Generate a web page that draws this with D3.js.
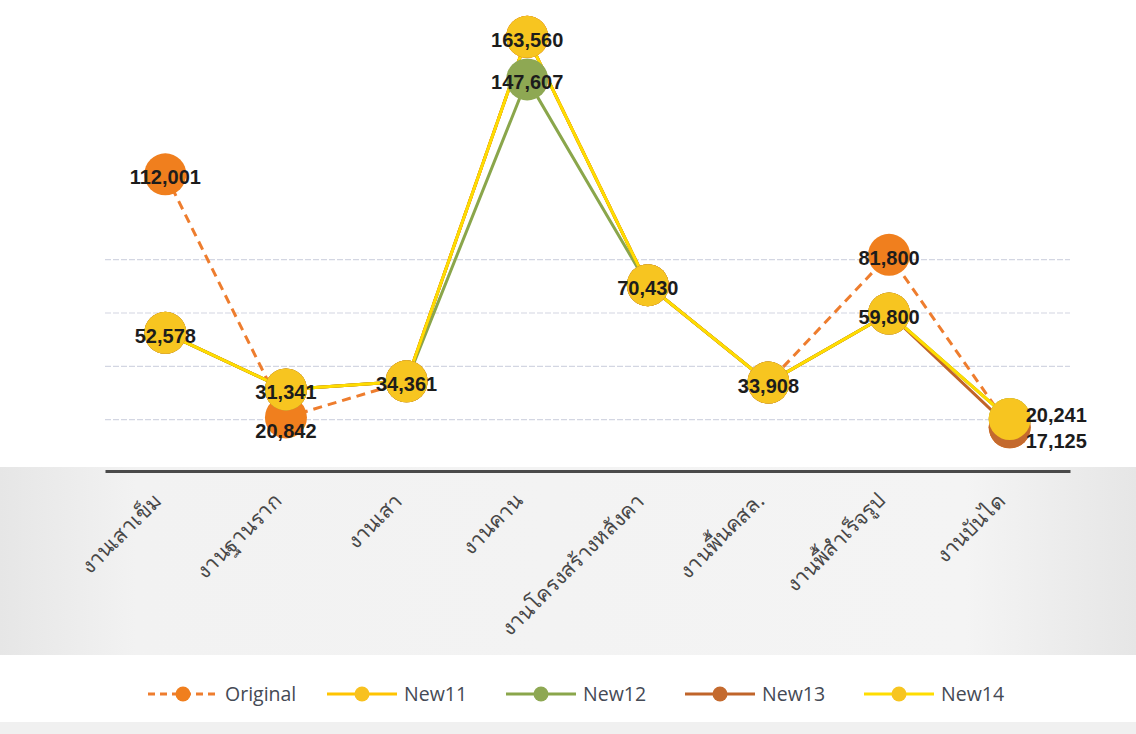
<!DOCTYPE html>
<html><head><meta charset="utf-8">
<script src="https://cdn.jsdelivr.net/npm/d3@7"></script>
<style>
html,body{margin:0;padding:0;background:#fff;}
svg{display:block;}
</style></head>
<body>
<svg id="chart" width="1136" height="734"></svg>
<script>
const categories = ["งานเสาเข็ม","งานฐานราก","งานเสา","งานคาน","งานโครงสร้างหลังคา","งานพื้นคสล.","งานพื้สำเร็จรูป","งานบันได"];
const seriesNames = ["Original","New11","New12","New13","New14"];
const original = [112001, 20842, 34361, 163560, 70430, 33908, 81800, 17125];
const new11    = [52578, 31341, 34361, 163560, 70430, 33908, 59800, 20241];
const new12    = [52578, 31341, 34361, 147607, 70430, 33908, 59800, 20241];
const new13    = [52578, 31341, 34361, 163560, 70430, 33908, 59800, 17125];
const new14    = [52578, 31341, 34361, 163560, 70430, 33908, 59800, 20241];
const gridValues = [20000, 40000, 60000, 80000];
// labels: [series index, category index, placement]
const labelSpecs = [
  [0,0,"c"],[4,0,"c"],[4,1,"c"],[0,1,"b"],[4,2,"c"],[4,3,"c"],[2,3,"c"],
  [4,4,"c"],[4,5,"c"],[0,6,"c"],[4,6,"c"],[4,7,"r"],[3,7,"rb"]
];

const seriesValues = [original,new11,new12,new13,new14];
const lineColors   = ["#EE7D2E","#FFC400","#8AA64B","#C0642A","#FFDD00"];
const markerColors = ["#F07F1E","#F8C11F","#8EA853","#C46A2E","#F7C520"];

const svg = d3.select("#chart");

// photo-like background tint
const defs = svg.append("defs");
const g1 = defs.append("linearGradient").attr("id","bg").attr("x1","0").attr("x2","1");
g1.append("stop").attr("offset","0").attr("stop-color","#e6e6e6");
g1.append("stop").attr("offset","0.12").attr("stop-color","#f2f2f2");
g1.append("stop").attr("offset","0.85").attr("stop-color","#f4f4f4");
g1.append("stop").attr("offset","1").attr("stop-color","#e6e6e6");
svg.append("rect").attr("x",0).attr("y",467).attr("width",1136).attr("height",188).attr("fill","url(#bg)");
svg.append("rect").attr("x",0).attr("y",722).attr("width",1136).attr("height",12).attr("fill","#f0f0f0");

const x = d3.scaleBand().domain(categories).range([105,1070]);
const cx = c => x(c) + x.bandwidth()/2;
const y = d3.scaleLinear().domain([0,180000]).range([473,-7]);

// gridlines
svg.append("g").selectAll("line").data(gridValues).join("line")
  .attr("x1",105).attr("x2",1070)
  .attr("y1",d=>y(d)).attr("y2",d=>y(d))
  .attr("stroke","#d3d6e2").attr("stroke-width",1.2).attr("stroke-dasharray","6,2");

// axis
const xAxis = d3.axisBottom(x).tickSize(0).tickFormat("");
const ax = svg.append("g").attr("transform","translate(0,471)").call(xAxis);
ax.select(".domain").attr("stroke","#4a4a4a").attr("stroke-width",3.2);

// category labels
svg.append("g").selectAll("text").data(categories).join("text")
  .attr("transform",d=>`translate(${cx(d)-8},497) rotate(-45)`)
  .attr("text-anchor","end").attr("dy","0.35em")
  .attr("font-family","'Noto Sans','DejaVu Sans',sans-serif")
  .attr("font-size",21).attr("fill","#474747")
  .text(d=>d);

// lines
const line = d3.line().x((d,i)=>cx(categories[i])).y(d=>y(d));
seriesValues.forEach((vals,s)=>{
  svg.append("path").datum(vals)
    .attr("d",line).attr("fill","none")
    .attr("stroke",lineColors[s]).attr("stroke-width",3)
    .attr("stroke-dasharray", s===0 ? "9,6" : null)
    .attr("stroke-linejoin","round");
});
// markers
seriesValues.forEach((vals,s)=>{
  svg.append("g").selectAll("circle").data(vals).join("circle")
    .attr("cx",(d,i)=>cx(categories[i])).attr("cy",d=>y(d))
    .attr("r",21).attr("fill",markerColors[s]);
});

// data labels
svg.append("g").selectAll("text").data(labelSpecs).join("text")
  .attr("x",d=>{const px=cx(categories[d[1]]); return d[2].startsWith("r") ? px+16 : px;})
  .attr("y",d=>{const py=y(seriesValues[d[0]][d[1]]); return d[2]==="b"||d[2]==="rb" ? py+14 : (d[2]==="r"? py-4 : py+3);})
  .attr("dy","0.35em")
  .attr("text-anchor",d=>d[2].startsWith("r") ? "start" : "middle")
  .attr("font-family","'Liberation Sans',Arial,sans-serif")
  .attr("font-weight","bold").attr("font-size",20).attr("fill","#1c1c1c")
  .text(d=>d3.format(",")(seriesValues[d[0]][d[1]]));

// legend
const leg = svg.append("g").attr("transform","translate(0,694)");
seriesNames.forEach((n,s)=>{
  const mx = 183 + s*179;
  leg.append("line").attr("x1",mx-35).attr("x2",mx+35).attr("y1",0).attr("y2",0)
    .attr("stroke",lineColors[s]).attr("stroke-width",3)
    .attr("stroke-dasharray", s===0 ? "7,5" : null);
  leg.append("circle").attr("cx",mx).attr("cy",0).attr("r",7.5).attr("fill",markerColors[s]);
  leg.append("text").attr("x",mx+42).attr("y",0).attr("dy","0.35em")
    .attr("font-family","'Open Sans','Liberation Sans',sans-serif")
    .attr("font-size",19.5).attr("fill","#454a55").text(n);
});
</script>
</body></html>
